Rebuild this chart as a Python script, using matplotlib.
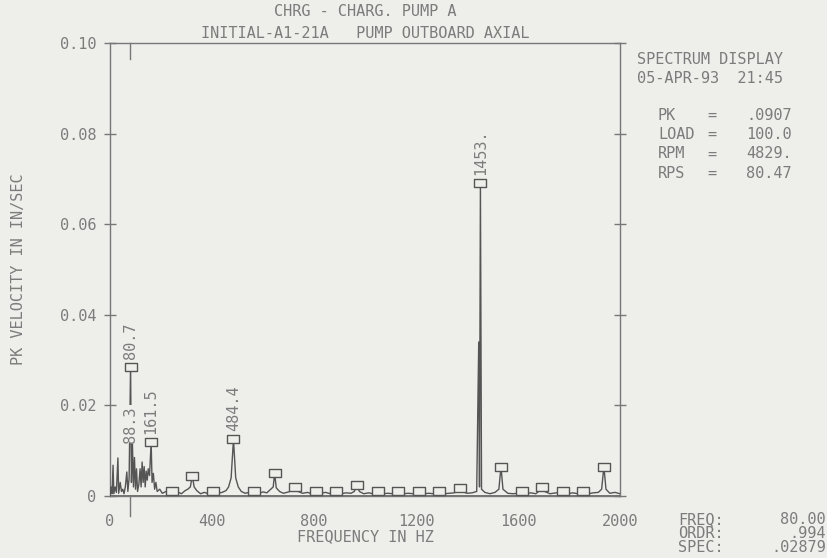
import matplotlib
matplotlib.use("Agg")
import matplotlib.pyplot as plt
import matplotlib.transforms as mtransforms
from matplotlib.path import Path

# ---------------- data ----------------
spec_freq = [0, 4, 8, 12, 15, 20, 25, 31, 34, 40, 45, 50, 55, 60, 66, 70, 75,
             80.7, 84, 88, 92, 96, 100, 104, 108, 113, 118, 122, 126, 130, 134,
             138, 142, 146, 150, 155, 161.4, 165, 170, 175, 180, 185, 195, 205,
             220, 235, 242, 250, 265, 280, 295, 305, 315, 322.8, 330, 340, 355,
             370, 385, 403.5, 420, 440, 455, 465, 475, 484.2, 493, 503, 515,
             530, 545, 565, 585, 600, 615, 630, 640, 645.6, 652, 665, 680, 700,
             715, 726.3, 738, 755, 775, 790, 807, 825, 845, 865, 888, 905, 925,
             945, 958, 968.4, 978, 995, 1015, 1030, 1049, 1070, 1090, 1110,
             1130, 1150, 1170, 1190, 1210, 1230, 1250, 1270, 1291, 1310, 1330,
             1350, 1362, 1372, 1382, 1400, 1420, 1438, 1446, 1449, 1452.6, 1457,
             1470, 1490, 1510, 1525, 1533.3, 1541, 1560, 1580, 1600, 1614, 1630,
             1650, 1670, 1685, 1694.7, 1705, 1725, 1750, 1775, 1795, 1815, 1835,
             1856, 1875, 1895, 1915, 1928, 1936.8, 1945, 1960, 1980, 2000]
spec_amp = [0.0, 0.0020, 0.0005, 0.0068, 0.0005, 0.0020, 0.0008, 0.0084, 0.0006,
            0.0030, 0.0010, 0.0015, 0.0005, 0.0020, 0.0053, 0.0010, 0.0040,
            0.0288, 0.0030, 0.0115, 0.0020, 0.0085, 0.0015, 0.0060, 0.0010,
            0.0025, 0.0060, 0.0020, 0.0075, 0.0030, 0.0065, 0.0020, 0.0055,
            0.0035, 0.0060, 0.0045, 0.0119, 0.0030, 0.0050, 0.0015, 0.0030,
            0.0010, 0.0015, 0.0006, 0.0010, 0.0006, 0.0010, 0.0006, 0.0009,
            0.0005, 0.0012, 0.0015, 0.0020, 0.0044, 0.0020, 0.0012, 0.0005,
            0.0008, 0.0005, 0.0010, 0.0006, 0.0008, 0.0012, 0.0020, 0.0040,
            0.0125, 0.0040, 0.0020, 0.0010, 0.0006, 0.0008, 0.0010, 0.0006,
            0.0009, 0.0007, 0.0015, 0.0020, 0.0050, 0.0018, 0.0010, 0.0006,
            0.0009, 0.0012, 0.0020, 0.0010, 0.0006, 0.0008, 0.0005, 0.0009,
            0.0006, 0.0008, 0.0005, 0.0009, 0.0005, 0.0007, 0.0006, 0.0010,
            0.0025, 0.0010, 0.0005, 0.0007, 0.0005, 0.0008, 0.0005, 0.0006,
            0.0005, 0.0008, 0.0005, 0.0006, 0.0005, 0.0008, 0.0005, 0.0006,
            0.0005, 0.0008, 0.0005, 0.0006, 0.0007, 0.0012, 0.0018, 0.0010,
            0.0006, 0.0007, 0.0010, 0.0340, 0.0020, 0.0690, 0.0015, 0.0008,
            0.0005, 0.0008, 0.0015, 0.0065, 0.0015, 0.0006, 0.0005, 0.0006,
            0.0009, 0.0005, 0.0007, 0.0005, 0.0012, 0.0020, 0.0010, 0.0005,
            0.0007, 0.0009, 0.0005, 0.0007, 0.0005, 0.0009, 0.0005, 0.0007,
            0.0008, 0.0015, 0.0065, 0.0015, 0.0006, 0.0008, 0.0005]

harm_freq = [80.7, 161.4, 242.1, 322.8, 403.5, 484.2, 564.9, 645.6, 726.3,
             807.0, 887.7, 968.4, 1049.1, 1129.8, 1210.5, 1291.2, 1371.9,
             1452.6, 1533.3, 1614.0, 1694.7, 1775.4, 1856.1, 1936.8]
harm_amp = [0.0285, 0.0119, 0.0010, 0.0044, 0.0010, 0.0125, 0.0010, 0.0050,
            0.0020, 0.0010, 0.0010, 0.0024, 0.0010, 0.0010, 0.0010, 0.0010,
            0.0018, 0.0690, 0.0065, 0.0010, 0.0020, 0.0010, 0.0010, 0.0065]

peak_labels = ["80.7", "161.5", "484.4", "1453."]
peak_freq = [80.7, 161.4, 484.2, 1452.6]
peak_amp = [0.0285, 0.0119, 0.0125, 0.0690]
extra_label = "88.3"
extra_label_freq = 80.7
extra_label_amp = 0.0118

cursor_freq = 80.0

y_ticks = [0, 0.02, 0.04, 0.06, 0.08, 0.10]
y_tick_labels = ["0", "0.02", "0.04", "0.06", "0.08", "0.10"]
x_ticks = [0, 400, 800, 1200, 1600, 2000]
x_tick_labels = ["0", "400", "800", "1200", "1600", "2000"]

title_lines = ["CHRG - CHARG. PUMP A", "INITIAL-A1-21A   PUMP OUTBOARD AXIAL"]
info_head = ["SPECTRUM DISPLAY", "05-APR-93  21:45"]
info_keys = ["PK", "LOAD", "RPM", "RPS"]
info_vals = [".0907", "100.0", "4829.", "80.47"]
cursor_keys = ["FREQ:", "ORDR:", "SPEC:"]
cursor_vals = ["80.00", ".994", ".02879"]

# ---------------- style ----------------
plt.rcParams['font.family'] = ['DejaVu Sans Mono']
FS = 11
BG = '#eeeeeb'
TXT = '#7c7c7c'
LINE = '#555555'
AXC = '#777777'

W, H = 828, 558
fig = plt.figure(figsize=(W / 100, H / 100), dpi=100)
fig.patch.set_facecolor(BG)


def fx(px):
    return px / W


def fy(py):
    return 1 - py / H


ax = fig.add_axes([fx(110), fy(496), fx(620) - fx(110), fy(43) - fy(496)])
ax.set_facecolor(BG)
ax.set_xlim(0, 2000)
ax.set_ylim(0, 0.10)
for s in ax.spines.values():
    s.set_color(AXC)
    s.set_linewidth(1.0)

ax.set_yticks(y_ticks)
ax.set_yticklabels(y_tick_labels)
ax.yaxis.set_ticks_position('both')
ax.tick_params(axis='y', direction='inout', length=8, width=1, color=AXC,
               labelcolor=TXT, labelsize=FS, pad=6)
ax.set_xticks(x_ticks)
ax.set_xticklabels(x_tick_labels)
ax.tick_params(axis='x', length=0, labelcolor=TXT, labelsize=FS, pad=13)

# spectrum
ax.plot(spec_freq, spec_amp, color=LINE, lw=1.0, zorder=3)
ax.axhline(0, color=LINE, lw=1.8, zorder=3)

# harmonic markers: hollow rectangles
rect = Path([(-1, -0.6), (1, -0.6), (1, 0.6), (-1, 0.6), (-1, -0.6)],
            [Path.MOVETO, Path.LINETO, Path.LINETO, Path.LINETO, Path.CLOSEPOLY])
ax.plot(harm_freq, harm_amp, linestyle='none', marker=rect, markersize=8.5,
        markerfacecolor=BG, markeredgecolor=LINE, markeredgewidth=1.0, zorder=4)

# peak labels
for lab, f, a in zip(peak_labels, peak_freq, peak_amp):
    ax.annotate(lab, xy=(f, a), xytext=(0, 6), textcoords='offset points',
                rotation=90, ha='center', va='bottom', color=TXT, fontsize=FS,
                zorder=5)
ax.annotate(extra_label, xy=(extra_label_freq, extra_label_amp), xytext=(0, 0),
            textcoords='offset points', rotation=90, ha='center', va='bottom',
            color=TXT, fontsize=FS, zorder=5,
            bbox=dict(boxstyle='square,pad=0.05', fc=BG, ec='none'))

# cursor marks
trans = mtransforms.blended_transform_factory(ax.transData, ax.transAxes)
ax.plot([cursor_freq, cursor_freq], [1.0, 0.965], transform=trans, color=AXC,
        lw=1.0, clip_on=False)
ax.plot([cursor_freq, cursor_freq], [0.0, -0.045], transform=trans, color=AXC,
        lw=1.0, clip_on=False)

ax.set_xlabel("FREQUENCY IN HZ", color=TXT, fontsize=FS, labelpad=0)
ax.set_ylabel("PK VELOCITY IN IN/SEC", color=TXT, fontsize=FS, labelpad=24)

# titles
fig.text(fx(365), fy(12), title_lines[0], ha='center', va='center', color=TXT,
         fontsize=FS)
fig.text(fx(365), fy(33), title_lines[1], ha='center', va='center', color=TXT,
         fontsize=FS)

# right info block
fig.text(fx(637), fy(60), info_head[0], ha='left', va='center', color=TXT,
         fontsize=FS)
fig.text(fx(637), fy(79), info_head[1], ha='left', va='center', color=TXT,
         fontsize=FS)
for i, (k, v) in enumerate(zip(info_keys, info_vals)):
    yy = 115 + i * 19.5
    fig.text(fx(658), fy(yy), k, ha='left', va='center', color=TXT, fontsize=FS)
    fig.text(fx(712), fy(yy), "=", ha='center', va='center', color=TXT,
             fontsize=FS)
    fig.text(fx(792), fy(yy), v, ha='right', va='center', color=TXT,
             fontsize=FS)

for i, (k, v) in enumerate(zip(cursor_keys, cursor_vals)):
    yy = 520 + i * 13.5
    fig.text(fx(678), fy(yy), k, ha='left', va='center', color=TXT, fontsize=FS)
    fig.text(fx(826), fy(yy), v, ha='right', va='center', color=TXT,
             fontsize=FS)

fig.savefig("out.png", dpi=100, facecolor=BG)
